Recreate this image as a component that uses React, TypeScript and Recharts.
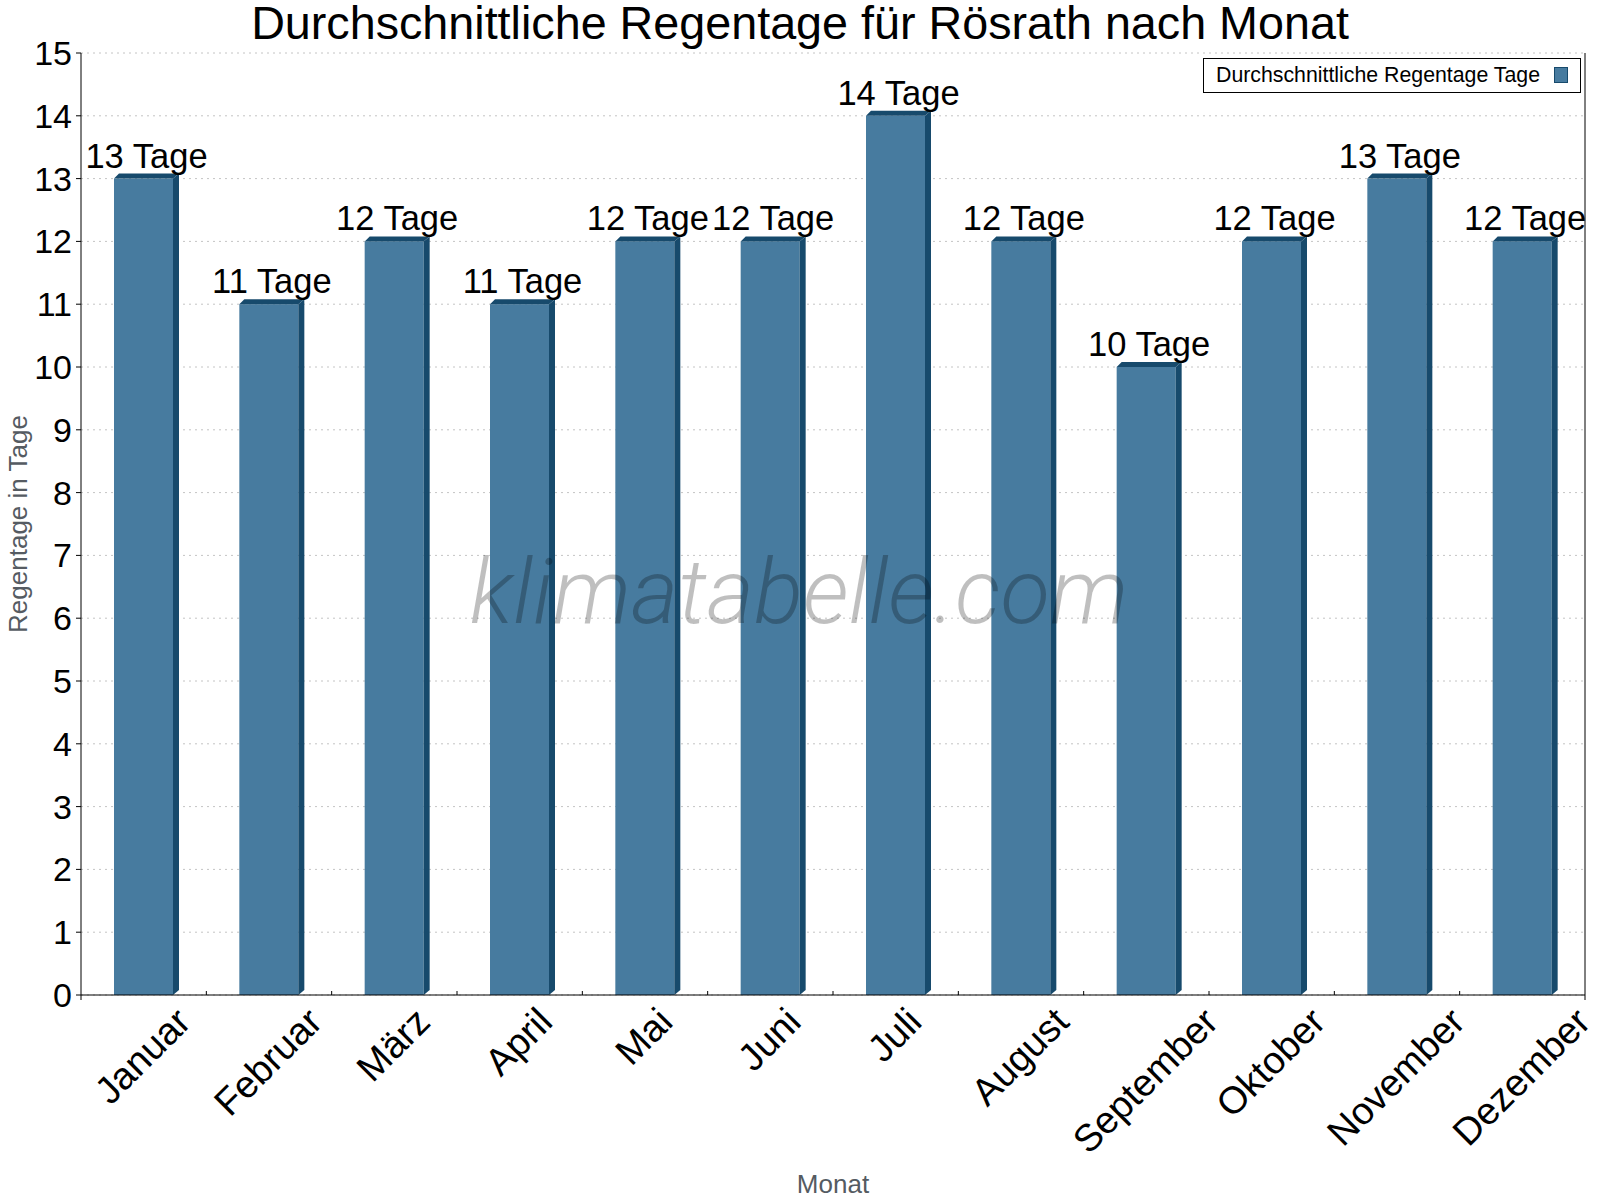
import React from "react";
import { Bar, BarChart, CartesianGrid, LabelList, XAxis, YAxis } from "recharts";

const months = [
  "Januar",
  "Februar",
  "März",
  "April",
  "Mai",
  "Juni",
  "Juli",
  "August",
  "September",
  "Oktober",
  "November",
  "Dezember",
];
const rainDays = [13, 11, 12, 11, 12, 12, 14, 12, 10, 12, 13, 12];
const yTicks = [0, 1, 2, 3, 4, 5, 6, 7, 8, 9, 10, 11, 12, 13, 14, 15];
const unit = "Tage";
const seriesName = "Durchschnittliche Regentage Tage";

const data = months.map((m, i) => ({ month: m, days: rainDays[i] }));

const W = 1600;
const H = 1200;
const TOP = 53;
const LEFT = 81;
const RIGHT = 1585;
const BOTTOM = 995;
const BAND = (RIGHT - LEFT) / months.length;
const FONT = "'Liberation Sans', Arial, sans-serif";
const FRONT = "#477b9f";
const DARK = "#174a6c";
const DEPTH_X = 6;
const DEPTH_Y = 5;

let ctx: CanvasRenderingContext2D | null = null;
function textWidth(s: string, size: number) {
  if (!ctx) ctx = document.createElement("canvas").getContext("2d");
  if (!ctx) return s.length * size * 0.55;
  ctx.font = `${size}px 'Liberation Sans'`;
  return ctx.measureText(s).width;
}

function Bar3D(props: any) {
  const { x, y, width, height } = props;
  if (height <= 0) return null;
  const r = x + width;
  return (
    <g>
      <rect x={x} y={y} width={width} height={height} fill={FRONT} />
      <polygon
        points={`${r},${y} ${r + DEPTH_X},${y - DEPTH_Y} ${r + DEPTH_X},${y + height - DEPTH_Y} ${r},${y + height}`}
        fill={DARK}
      />
      <polygon
        points={`${x},${y} ${x + DEPTH_X - 1},${y - DEPTH_Y} ${r + DEPTH_X},${y - DEPTH_Y} ${r},${y}`}
        fill={DARK}
      />
    </g>
  );
}

function ValueLabel(props: any) {
  const { x, y, width, value } = props;
  return (
    <text
      x={x + (width + DEPTH_X) / 2}
      y={y - 11}
      textAnchor="middle"
      fontFamily={FONT}
      fontSize={34.5}
      fill="#000"
    >
      {`${value} ${unit}`}
    </text>
  );
}

function MonthTick(props: any) {
  const { x, payload, index } = props;
  const size = 38;
  const w = textWidth(payload.value, size);
  const ex = x + 0.354 * w + 8;
  const ey = BOTTOM + 29;
  const last = index === months.length - 1;
  return (
    <g>
      {index === 0 && (
        <line x1={x - BAND / 2} y1={BOTTOM} x2={x - BAND / 2} y2={BOTTOM + 5} stroke="#000" />
      )}
      <line
        x1={x + BAND / 2}
        y1={last ? BOTTOM : BOTTOM - 4}
        x2={x + BAND / 2}
        y2={last ? BOTTOM + 5 : BOTTOM}
        stroke="#000"
      />
      <text
        x={ex}
        y={ey}
        textAnchor="end"
        transform={`rotate(-45 ${ex} ${ey})`}
        fontFamily={FONT}
        fontSize={size}
        fill="#000"
      >
        {payload.value}
      </text>
    </g>
  );
}

export default function App() {
  return (
    <div style={{ position: "absolute", left: 0, top: 0, width: W, height: H, background: "#fff" }}>
      <BarChart
        width={W}
        height={H}
        data={data}
        margin={{ top: TOP, right: W - RIGHT - 1, left: 0, bottom: 0 }}
        barSize={59}
      >
        <CartesianGrid vertical={false} stroke="#c4c4c4" strokeDasharray="2 4" />
        <XAxis
          dataKey="month"
          interval={0}
          height={H - BOTTOM}
          tickLine={false}
          tickSize={0}
          stroke="#000"
          tick={<MonthTick />}
        />
        <YAxis
          domain={[0, 15]}
          ticks={yTicks}
          interval={0}
          width={LEFT}
          stroke="#000"
          tickSize={5}
          tickMargin={4}
          tick={{ fontSize: 34, fill: "#000", fontFamily: FONT }}
        />
        <YAxis
          yAxisId="right"
          orientation="right"
          width={1}
          tick={false}
          tickLine={false}
          stroke="#000"
        />
        <Bar dataKey="days" name={seriesName} shape={<Bar3D />} isAnimationActive={false}>
          <LabelList dataKey="days" content={<ValueLabel />} />
        </Bar>
        <text
          x={W / 2}
          y={39}
          textAnchor="middle"
          fontFamily={FONT}
          fontSize={46.7}
          fill="#000"
        >
          Durchschnittliche Regentage für Rösrath nach Monat
        </text>
        <text
          x={27}
          y={(TOP + BOTTOM) / 2}
          textAnchor="middle"
          transform={`rotate(-90 27 ${(TOP + BOTTOM) / 2})`}
          fontFamily={FONT}
          fontSize={26}
          fill="#555b62"
        >
          Regentage in Tage
        </text>
        <text
          x={(LEFT + RIGHT) / 2}
          y={1193}
          textAnchor="middle"
          fontFamily={FONT}
          fontSize={26}
          fill="#555b62"
        >
          Monat
        </text>
        <g>
          <rect x={1203.5} y={58.5} width={377} height={34} fill="#fff" stroke="#000" />
          <text x={1216} y={82} fontFamily={FONT} fontSize={21.3} fill="#000">
            {seriesName}
          </text>
          <rect x={1554.5} y={67.5} width={13} height={15} fill={FRONT} stroke={DARK} />
        </g>
      </BarChart>
      <svg
        width={W}
        height={H}
        style={{ position: "absolute", left: 0, top: 0, pointerEvents: "none" }}
      >
        <text
          x={799}
          y={623}
          textAnchor="middle"
          fontFamily="Roboto, sans-serif"
          fontStyle="italic"
          fontWeight={300}
          fontSize={91}
          fill="#000"
          fillOpacity={0.25}
        >
          klimatabelle.com
        </text>
      </svg>
    </div>
  );
}
